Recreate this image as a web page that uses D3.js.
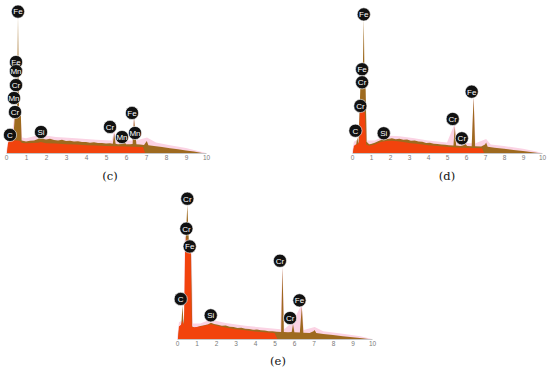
<!DOCTYPE html>
<html>
<head>
<meta charset="utf-8">
<script src="https://cdn.jsdelivr.net/npm/d3@7"></script>
<style>
  body { margin: 0; background: #fff; }
  svg { display: block; }
</style>
</head>
<body>
<div id="chart"></div>
<script>
// energy ticks (keV)
const ticks = [0, 1, 2, 3, 4, 5, 6, 7, 8, 9, 10];

// spectrum (c): [keV, counts]
const cBrown = [[0.05,0],[0.12,7],[0.2,10],[0.28,12],[0.36,10],[0.42,22],[0.46,30],[0.55,31],[0.6,98],[0.65,31],[0.74,29],[0.78,9],[0.9,8.6],[1.0,8.2],[1.2,8.8],[1.4,9.0],[1.6,10.0],[1.74,11.2],[1.85,10.2],[2.0,9.6],[2.2,10.1],[2.4,9.3],[2.6,9.0],[2.8,9.4],[3.0,8.6],[3.2,8.8],[3.4,8.2],[3.6,8.4],[3.8,7.8],[4.0,7.9],[4.2,7.4],[4.4,7.6],[4.6,7.1],[4.8,7.2],[5.0,6.8],[5.2,6.9],[5.34,6.6],[5.41,14],[5.48,6.6],[5.6,6.3],[5.8,6.4],[5.9,8.5],[6.0,6.2],[6.2,6.2],[6.33,6.4],[6.4,25],[6.47,14],[6.52,6.2],[6.7,6],[6.9,5.8],[7.04,8.5],[7.12,5.6],[7.4,5],[7.8,4.2],[8.2,3.4],[8.6,2.6],[9.0,1.8],[9.4,1.0],[9.8,0]];
const cRed = [[0.05,0],[0.1,7],[0.2,10],[0.28,13],[0.36,10],[0.42,9],[0.5,9],[0.6,9],[0.7,8.5],[0.8,7.2],[1.0,7.0],[1.3,7.1],[1.6,7.3],[1.74,7.8],[2.0,7.0],[2.5,6.7],[3.0,6.3],[3.5,6.0],[4.0,5.6],[4.5,5.3],[5.0,5.0],[5.5,4.8],[6.0,4.6],[6.5,4.5],[6.85,4.3],[6.95,0]];
const cPink = [[0,0],[0.1,9],[0.3,14],[0.4,25],[0.5,33],[0.7,33],[0.8,11],[1.0,10.5],[1.7,13],[2.5,11.5],[3.5,10.5],[4.5,9.5],[5.3,9],[5.41,17],[5.5,9],[6.3,9],[6.4,27],[6.5,9],[7.05,11],[7.5,7.5],[8.2,5.5],[9.0,3.5],[9.6,1.5],[10,0]];
const cLabels = ["Fe","Fe","Mn","Cr","Mn","Cr","C","Si","Cr","Mn","Fe","Mn"];
const cLabelKeV = [0.6, 0.5, 0.5, 0.5, 0.4, 0.45, 0.2, 1.75, 5.2, 5.8, 6.3, 6.45];
const cLabelY = [101, 65, 58.5, 48.5, 39.3, 29.3, 12.9, 15, 18.6, 11.4, 28.6, 14.3];

// spectrum (d)
const dBrown = [[0.05,0],[0.12,5],[0.22,6],[0.28,11],[0.34,6],[0.4,30],[0.45,52],[0.56,53],[0.62,96],[0.66,52],[0.72,45],[0.77,8],[0.9,6.2],[1.0,6.4],[1.2,7.4],[1.4,8.6],[1.6,9.6],[1.74,10.4],[1.9,10.0],[2.1,10.6],[2.3,9.8],[2.5,10.2],[2.7,9.4],[2.9,9.6],[3.1,8.8],[3.3,8.9],[3.5,8.2],[3.7,8.0],[3.9,7.2],[4.1,7.3],[4.3,6.6],[4.5,6.5],[4.7,6.0],[4.9,5.9],[5.1,5.5],[5.34,5.4],[5.41,19],[5.48,5.3],[5.7,5.0],[5.9,5.8],[5.98,6.5],[6.06,5],[6.3,4.9],[6.4,40],[6.48,4.8],[6.8,4.6],[7.0,6],[7.06,7.5],[7.14,4.4],[7.5,3.8],[8.0,3.0],[8.5,2.2],[9.0,1.4],[9.5,0.6],[9.8,0]];
const dRed = [[0.05,0],[0.1,5],[0.2,6],[0.3,6],[0.38,8],[0.42,30],[0.5,32],[0.6,31],[0.68,28],[0.74,6],[0.9,5.2],[1.2,6.0],[1.5,7.8],[1.8,8.6],[2.1,8.8],[2.4,8.4],[2.7,7.8],[3.0,7.2],[3.5,6.4],[4.0,5.6],[4.5,5.0],[5.0,4.4],[5.5,4.0],[6.0,3.8],[6.5,3.6],[6.85,3.4],[6.95,0]];
const dPink = [[0,0],[0.1,8],[0.35,10],[0.4,34],[0.72,34],[0.8,9],[1.2,9],[1.8,12.5],[2.5,12],[3.2,10.8],[4,9],[5,7.5],[5.41,21],[5.5,7.4],[6.3,7],[6.4,42],[6.5,7],[7.06,10],[7.3,6],[8,5],[9,3],[9.7,1],[10,0]];
const dLabels = ["Fe","Fe","Cr","Cr","C","Si","Cr","Cr","Fe"];
const dLabelKeV = [0.62, 0.53, 0.53, 0.44, 0.18, 1.67, 5.3, 5.78, 6.3];
const dLabelY = [99, 59.8, 50.5, 33.6, 15.9, 14.1, 24.3, 10.5, 43.8];

// spectrum (e)
const eBrown = [[0.05,0],[0.12,9],[0.22,10],[0.28,24],[0.34,10],[0.4,20],[0.45,72],[0.53,96],[0.6,72],[0.65,64],[0.72,60],[0.78,9],[0.9,8.0],[1.0,8.4],[1.2,9.2],[1.4,9.8],[1.6,10.6],[1.74,11.6],[1.9,10.8],[2.1,10.2],[2.3,9.4],[2.5,9.6],[2.7,8.8],[2.9,8.6],[3.1,7.9],[3.3,8.0],[3.5,7.4],[3.7,7.2],[3.9,6.6],[4.1,6.7],[4.3,6.2],[4.5,6.0],[4.7,5.6],[4.9,5.6],[5.1,5.2],[5.34,5],[5.41,51],[5.48,5],[5.7,4.8],[5.88,5],[5.95,10.5],[6.02,4.8],[6.3,4.6],[6.4,23],[6.48,4.5],[6.8,4.3],[7.0,5.5],[7.06,6.5],[7.14,4.2],[7.5,3.6],[8.0,2.8],[8.5,2.0],[9.0,1.3],[9.5,0.6],[9.8,0]];
const eRed = [[0.05,0],[0.1,9],[0.2,10],[0.28,13],[0.36,10],[0.42,68],[0.5,72],[0.55,70],[0.6,65],[0.7,62],[0.76,8.6],[0.9,8.4],[1.2,9.0],[1.5,9.8],[1.74,10.6],[2.0,9.6],[2.5,8.2],[3.0,7.0],[3.5,6.2],[4.0,5.4],[4.5,4.8],[5.0,4.3],[5.15,0]];
const ePink = [[0,0],[0.1,12],[0.35,14],[0.4,74],[0.75,66],[0.82,11],[1.2,11],[1.7,14],[2.5,11.5],[3.5,9.5],[4.5,8],[5.3,7],[5.41,53],[5.5,7],[5.95,12.5],[6.4,25],[6.5,6.5],[7.06,8.5],[7.5,5.5],[8.5,3.8],[9.4,2],[10,0]];
const eLabels = ["Cr","Cr","Fe","C","Si","Cr","Cr","Fe"];
const eLabelKeV = [0.53, 0.48, 0.65, 0.19, 1.73, 5.28, 5.8, 6.28];
const eLabelY = [100.2, 78.8, 66.1, 28.6, 16.9, 55.9, 15, 27.6];

const captions = ["(c)", "(d)", "(e)"];

// panel boxes in the page
const panels = [
  {cap: captions[0], x0: 6, x1: 206, base: 153, brown: cBrown, red: cRed, pink: cPink,
   names: cLabels, kev: cLabelKeV, lev: cLabelY, capX: 110, capY: 180},
  {cap: captions[1], x0: 352, x1: 542, base: 153, brown: dBrown, red: dRed, pink: dPink,
   names: dLabels, kev: dLabelKeV, lev: dLabelY, capX: 447, capY: 180},
  {cap: captions[2], x0: 177, x1: 372, base: 339, brown: eBrown, red: eRed, pink: ePink,
   names: eLabels, kev: eLabelKeV, lev: eLabelY, capX: 278, capY: 365}
];

const svg = d3.select("#chart")
  .append("svg")
  .attr("width", 550)
  .attr("height", 373)
  .style("background", "#fff");

panels.forEach(function(p) {
  const x = d3.scaleLinear().domain([0, 10]).range([p.x0, p.x1]);
  const y = d3.scaleLinear().domain([0, 100]).range([p.base, p.base - 140]);

  const area = d3.area()
    .x(d => x(d[0]))
    .y0(y(0))
    .y1(d => y(d[1]));

  const g = svg.append("g");

  // spectra, back to front
  g.append("path").datum(p.pink).attr("d", area).attr("fill", "#fbd3e4");
  g.append("path").datum(p.brown).attr("d", area).attr("fill", "#9e6a1f");
  g.append("path").datum(p.red).attr("d", area).attr("fill", "#f2430d");

  // energy axis
  const ax = g.append("g")
    .attr("transform", `translate(0, ${p.base})`)
    .call(d3.axisBottom(x).tickValues(ticks).tickSize(0).tickPadding(2).tickFormat(d3.format("d")));
  ax.select(".domain").attr("stroke", "#b8b8b8").attr("stroke-width", 0.8);
  ax.selectAll("text")
    .attr("fill", "#7a7a7a")
    .style("font-family", "Liberation Sans, Arial, sans-serif")
    .style("font-size", "6.5px");

  // element markers
  const lab = g.selectAll(".lab")
    .data(p.names.map((n, i) => ({name: n, kev: p.kev[i], lev: p.lev[i]})))
    .enter()
    .append("g")
    .attr("transform", d => `translate(${x(d.kev)}, ${y(d.lev)})`);
  lab.append("circle")
    .attr("r", 6.6)
    .attr("fill", "#111111")
    .attr("stroke", "#ffffff")
    .attr("stroke-width", 0.6);
  lab.append("text")
    .attr("text-anchor", "middle")
    .attr("dy", "0.36em")
    .attr("fill", "#fff")
    .style("font-family", "Liberation Sans, Arial, sans-serif")
    .style("font-size", "8px")
    .text(d => d.name);

  // caption
  svg.append("text")
    .attr("x", p.capX)
    .attr("y", p.capY)
    .attr("text-anchor", "middle")
    .attr("fill", "#111")
    .style("font-family", "DejaVu Serif, Liberation Serif, serif")
    .style("font-size", "11.5px")
    .text(p.cap);
});
</script>
</body>
</html>
